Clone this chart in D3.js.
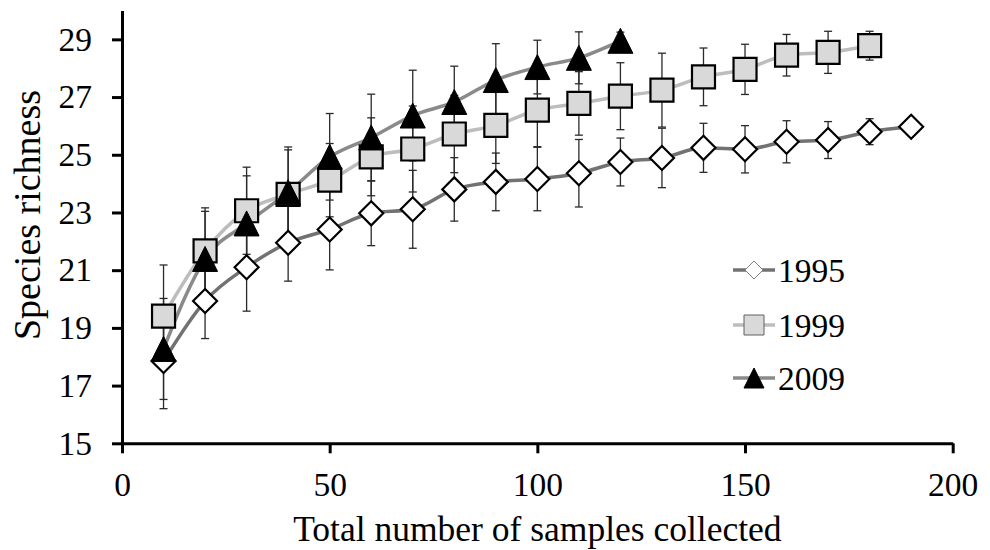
<!DOCTYPE html>
<html>
<head>
<meta charset="utf-8">
<script src="https://cdn.jsdelivr.net/npm/d3@7"></script>
<style>
  body { margin: 0; background: #fff; }
  svg { display: block; }
</style>
</head>
<body>
<svg id="chart" width="990" height="550" font-family="Liberation Serif"></svg>
<script>
// samples collected (x) and mean species richness with error bars per year
const samples = [10, 20, 30, 40, 50, 60, 70, 80, 90, 100, 110, 120, 130, 140, 150, 160, 170, 180, 190];

const rich1995 = [17.85, 19.93, 21.10, 21.95, 22.41, 22.97, 23.11, 23.80, 24.06, 24.16, 24.36, 24.75, 24.89, 25.24, 25.19, 25.45, 25.51, 25.80, 25.97];
const err1995  = [1.65, 1.30, 1.52, 1.33, 1.40, 1.12, 1.35, 1.10, 1.00, 1.10, 1.17, 0.83, 1.03, 0.85, 0.82, 0.73, 0.64, 0.45, 0];

const rich1999 = [19.41, 21.67, 23.06, 23.63, 24.12, 24.93, 25.20, 25.72, 26.02, 26.55, 26.78, 27.03, 27.24, 27.70, 27.96, 28.45, 28.55, 28.78];
const err1999  = [1.77, 1.49, 1.51, 1.64, 1.27, 1.35, 1.49, 1.34, 1.32, 1.27, 1.10, 1.16, 1.28, 1.00, 0.87, 0.72, 0.73, 0.50];

const rich2009 = [18.27, 21.39, 22.62, 23.70, 24.93, 25.60, 26.36, 26.83, 27.59, 28.04, 28.36, 28.95];
const err2009  = [1.75, 1.65, 1.65, 1.47, 1.50, 1.50, 1.57, 1.24, 1.26, 0.93, 0.90, 0.30];

const xTicks = [0, 50, 100, 150, 200];
const yTicks = [15, 17, 19, 21, 23, 25, 27, 29];

const series = [
    { name: '1995', values: rich1995, errs: err1995, line: '#727272', marker: 'diamond' },
    { name: '1999', values: rich1999, errs: err1999, line: '#bdbdbd', marker: 'square' },
    { name: '2009', values: rich2009, errs: err2009, line: '#8a8a8a', marker: 'triangle' },
];

const FONT = 'Liberation Serif';
const svg = d3.select('#chart');
const x = d3.scaleLinear().domain([0, 200]).range([122, 952.7]);
const y = d3.scaleLinear().domain([15, 30]).range([443.3, 10.5]);

// marker paths, centred on their bounding box like Excel markers
function markerPath(kind, s) {
    const h = s / 2;
    if (kind === 'diamond') return `M0,${-h}L${h},0L0,${h}L${-h},0Z`;
    if (kind === 'square') return `M${-h},${-h}H${h}V${h}H${-h}Z`;
    return `M0,${-h}L${h},${h}L${-h},${h}Z`;
}
const markerStyle = {
    diamond: { fill: '#fff', stroke: '#000', width: 2.2, size: 24 },
    square: { fill: '#d9d9d9', stroke: '#000', width: 2.2, size: 23 },
    triangle: { fill: '#000', stroke: '#000', width: 1, size: 25 },
};

const rows = s => s.values.map((v, i) => ({ x: samples[i], v, e: s.errs[i] }));

// error bars
const gErr = svg.append('g').attr('stroke', '#2a2a2a').attr('stroke-width', 1.3);
series.forEach(s => {
    rows(s).filter(d => d.e > 0).forEach(d => {
        const cx = x(d.x);
        gErr.append('line').attr('x1', cx).attr('x2', cx).attr('y1', y(d.v - d.e)).attr('y2', y(d.v + d.e));
        [d.v - d.e, d.v + d.e].forEach(t => {
            gErr.append('line').attr('x1', cx - 4).attr('x2', cx + 4).attr('y1', y(t)).attr('y2', y(t));
        });
    });
});

// series lines
const line = d3.line().x(d => x(d.x)).y(d => y(d.v)).curve(d3.curveMonotoneX);
series.forEach(s => {
    svg.append('path')
        .datum(rows(s))
        .attr('fill', 'none')
        .attr('stroke', s.line)
        .attr('stroke-width', 3.5)
        .attr('d', line);
});

// markers
series.forEach(s => {
    const st = markerStyle[s.marker];
    svg.append('g').selectAll('path')
        .data(rows(s))
        .join('path')
        .attr('transform', d => `translate(${x(d.x)},${y(d.v)})`)
        .attr('d', markerPath(s.marker, st.size))
        .attr('fill', st.fill)
        .attr('stroke', st.stroke)
        .attr('stroke-width', st.width)
        .attr('stroke-linejoin', 'miter');
});

// axes
const tickFont = 33.5;
const xAxis = svg.append('g')
    .attr('transform', `translate(0,${y(15)})`)
    .call(d3.axisBottom(x).tickValues(xTicks).tickSize(10).tickPadding(19).tickSizeOuter(0));
const yAxis = svg.append('g')
    .attr('transform', `translate(${x(0)},0)`)
    .call(d3.axisLeft(y).tickValues(yTicks).tickSize(10).tickPadding(20).tickSizeOuter(0));
[xAxis, yAxis].forEach(a => {
    a.attr('font-family', FONT).attr('font-size', tickFont);
    a.select('.domain').attr('stroke', '#000').attr('stroke-width', 3);
    a.selectAll('.tick line').attr('stroke', '#000').attr('stroke-width', 3);
    a.selectAll('.tick text').attr('fill', '#000').attr('font-family', FONT).attr('font-size', tickFont);
});

svg.append('text')
    .attr('x', (x(0) + x(200)) / 2)
    .attr('y', 541)
    .attr('text-anchor', 'middle')
    .attr('font-family', FONT)
    .attr('font-size', 35.5)
    .text('Total number of samples collected');

svg.append('text')
    .attr('transform', 'translate(40,215) rotate(-90)')
    .attr('text-anchor', 'middle')
    .attr('font-family', FONT)
    .attr('font-size', 38)
    .text('Species richness');

// legend
const legendMarker = {
    diamond: { fill: '#fff', stroke: '#808080', width: 1, size: 18 },
    square: { fill: '#d9d9d9', stroke: '#606060', width: 1, size: 20 },
    triangle: { fill: '#000', stroke: '#000', width: 1, size: 20 },
};
const legendY = [270, 325, 378];
series.forEach((s, i) => {
    const g = svg.append('g').attr('transform', `translate(0,${legendY[i]})`);
    g.append('line').attr('x1', 733).attr('x2', 775).attr('stroke', s.line).attr('stroke-width', 3.5);
    const st = legendMarker[s.marker];
    g.append('path')
        .attr('transform', 'translate(754,0)')
        .attr('d', markerPath(s.marker, st.size))
        .attr('fill', st.fill)
        .attr('stroke', st.stroke)
        .attr('stroke-width', st.width);
    g.append('text')
        .attr('x', 778)
        .attr('dy', '0.35em')
        .attr('font-family', FONT)
        .attr('font-size', tickFont)
        .text(s.name);
});
</script>
</body>
</html>
